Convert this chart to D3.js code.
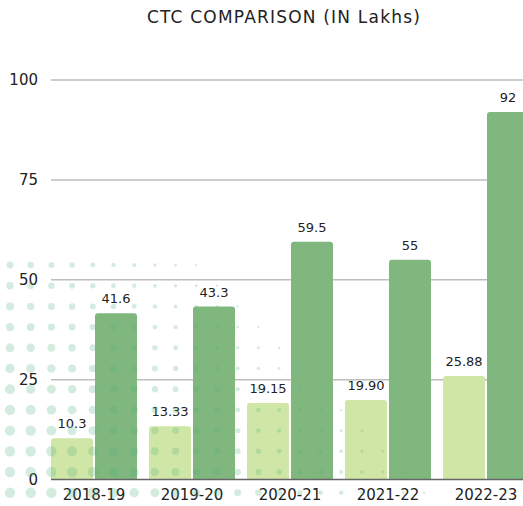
<!DOCTYPE html>
<html>
<head>
<meta charset="utf-8">
<script src="https://cdn.jsdelivr.net/npm/d3@7"></script>
<style>
  html, body { margin: 0; padding: 0; background: #fff; }
  svg { display: block; font-family: "DejaVu Sans", sans-serif; }
</style>
</head>
<body>
<svg id="chart" width="523" height="506"></svg>
<script>
const categories = ["2018-19", "2019-20", "2020-21", "2021-22", "2022-23"];
const averageCTC = [10.3, 13.33, 19.15, 19.90, 25.88];
const highestCTC = [41.6, 43.3, 59.5, 55, 92];
const averageLabels = ["10.3", "13.33", "19.15", "19.90", "25.88"];
const highestLabels = ["41.6", "43.3", "59.5", "55", "92"];
const yTicks = [0, 25, 50, 75, 100];
const seriesKeys = ["avg", "high"];
const title = "CTC COMPARISON (IN Lakhs)";

const W = 523, H = 506;
const svg = d3.select("#chart");

const y = d3.scaleLinear().domain([0, 100]).range([479.5, 80]);
const x0 = d3.scaleBand().domain(categories).range([45, 535])
  .paddingInner(12 / 98).paddingOuter(6 / 98);
const x1 = d3.scaleBand().domain(seriesKeys).range([0, x0.bandwidth()])
  .paddingInner(2 / 44).paddingOuter(0);
const color = d3.scaleOrdinal().domain(seriesKeys).range(["#d0e6a6", "#80b77f"]);

// title
svg.append("text")
  .attr("x", 284).attr("y", 23)
  .attr("text-anchor", "middle")
  .attr("font-size", 17)
  .attr("letter-spacing", 1.2)
  .attr("fill", "#222")
  .text(title);

// grid
const gridG = svg.append("g");
gridG.selectAll("line").data(yTicks.filter(d => d > 0)).join("line")
  .attr("x1", 51).attr("x2", W)
  .attr("y1", d => y(d)).attr("y2", d => y(d))
  .attr("stroke", "#bdbdbd").attr("stroke-width", 1.5);

// y axis labels
const yAxis = d3.axisLeft(y).tickValues(yTicks).tickSize(0).tickPadding(0);
const yg = svg.append("g").attr("transform", "translate(38,0)").call(yAxis);
yg.select(".domain").remove();
yg.selectAll("text").attr("font-size", 15).attr("fill", "#222")
  .attr("font-family", "DejaVu Sans, sans-serif");

// bars
const rows = categories.map((c, i) => ({
  cat: c,
  vals: [
    { key: "avg", v: averageCTC[i], label: averageLabels[i] },
    { key: "high", v: highestCTC[i], label: highestLabels[i] }
  ]
}));

function topRounded(xp, yp, w, h, r) {
  r = Math.min(r, h, w / 2);
  return `M${xp},${yp + h}V${yp + r}Q${xp},${yp} ${xp + r},${yp}H${xp + w - r}Q${xp + w},${yp} ${xp + w},${yp + r}V${yp + h}Z`;
}

const groups = svg.append("g").selectAll("g").data(rows).join("g")
  .attr("transform", d => `translate(${x0(d.cat)},0)`);

groups.selectAll("path").data(d => d.vals).join("path")
  .attr("d", d => topRounded(x1(d.key), y(d.v), x1.bandwidth(), y(0) - y(d.v), 3))
  .attr("fill", d => color(d.key));

groups.selectAll("text").data(d => d.vals).join("text")
  .attr("x", d => x1(d.key) + x1.bandwidth() / 2)
  .attr("y", d => y(d.v) - 10)
  .attr("text-anchor", "middle")
  .attr("font-size", 13)
  .attr("fill", "#222")
  .text(d => d.label);

// baseline
svg.append("line")
  .attr("x1", 51).attr("x2", W)
  .attr("y1", y(0)).attr("y2", y(0))
  .attr("stroke", "#666").attr("stroke-width", 1.5);

// x axis labels
const xAxis = d3.axisBottom(x0).tickSize(0).tickPadding(0);
const xg = svg.append("g").attr("transform", `translate(0,${y(0) + 9})`).call(xAxis);
xg.select(".domain").remove();
xg.selectAll("text").attr("font-size", 15).attr("fill", "#222")
  .attr("font-family", "DejaVu Sans, sans-serif")
  .attr("dy", "0.75em");

// decorative dot pattern
const dots = [];
for (let r = 0; r < 12; r++) {
  for (let c = 0; c < 22; c++) {
    const d = 9 + r - c;
    if (d < 0) continue;
    dots.push({ cx: 10 + c * 20.7, cy: 265 + r * 20.7, rad: Math.min(5.2, 1.2 + 0.25 * d) });
  }
}
svg.append("g").selectAll("circle").data(dots).join("circle")
  .attr("cx", d => d.cx).attr("cy", d => d.cy).attr("r", d => d.rad)
  .attr("fill", "rgb(76,175,120)").attr("fill-opacity", 0.24);
</script>
</body>
</html>
